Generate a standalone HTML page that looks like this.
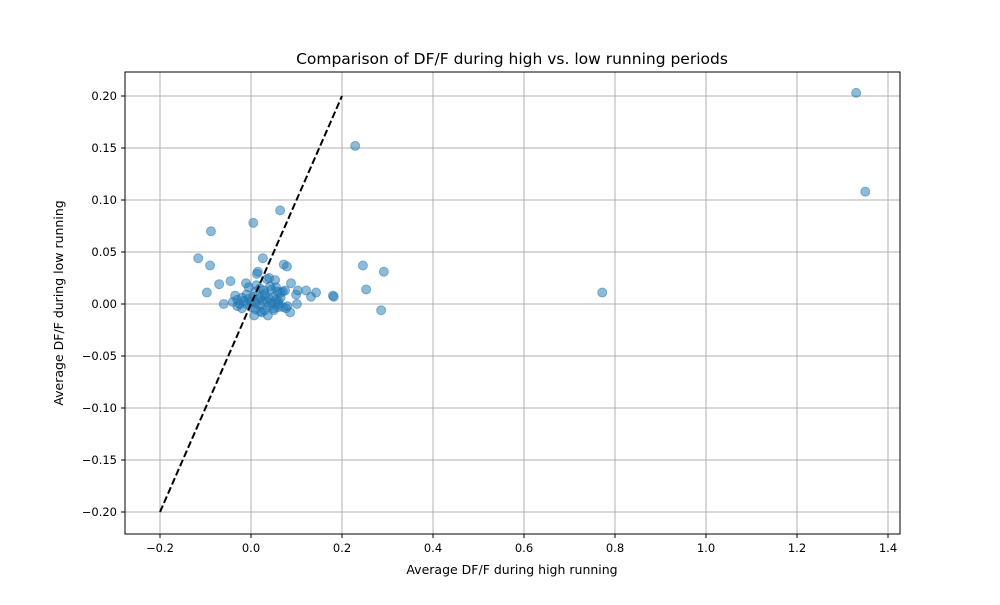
<!DOCTYPE html>
<html><head><meta charset="utf-8"><style>
body{margin:0;background:#fff;font-family:"Liberation Sans","DejaVu Sans",sans-serif}
text{font-family:"DejaVu Sans","Liberation Sans",sans-serif}
</style></head><body>
<svg id="chart" width="1000" height="600" xmlns="http://www.w3.org/2000/svg">
<rect width="1000" height="600" fill="#fff"/>
<g id="grid"></g>
<g id="pts"></g>
<g id="diag"></g>
<rect x="125" y="72" width="775" height="462" fill="none" stroke="#000" stroke-width="1"/>
<g id="ticks"></g>
<text x="512" y="64" text-anchor="middle" font-size="15.5">Comparison of DF/F during high vs. low running periods</text>
<text x="512" y="574" text-anchor="middle" font-size="12.5">Average DF/F during high running</text>
<text transform="translate(63,303) rotate(-90)" text-anchor="middle" font-size="12.5">Average DF/F during low running</text>
</svg>
<script>
const xTicks=[-0.2,0,0.2,0.4,0.6,0.8,1.0,1.2,1.4];
const xTickLabels=["−0.2","0.0","0.2","0.4","0.6","0.8","1.0","1.2","1.4"];
const yTicks=[-0.2,-0.15,-0.1,-0.05,0,0.05,0.1,0.15,0.2];
const yTickLabels=["−0.20","−0.15","−0.10","−0.05","0.00","0.05","0.10","0.15","0.20"];
const xVals=[1.33,1.35,0.229,0.772,0.246,0.292,0.253,0.286,0.064,0.005,-0.088,-0.116,-0.09,-0.097,-0.07,-0.06,-0.045,-0.011,0.015,0.013,0.026,0.072,0.079,0.088,0.053,0.035,0.103,0.121,0.143,0.132,0.18,0.182,0.099,0.101,0.086,0.077,0.037,0.007,0.024,
-0.04,-0.035,-0.03,-0.025,-0.02,-0.015,-0.01,-0.005,0.0,0.005,0.01,0.015,0.02,0.025,0.03,0.035,0.04,0.045,0.05,0.055,0.06,0.065,0.07,-0.03,-0.02,-0.01,0.0,0.01,0.02,0.03,0.04,0.05,0.06,0.07,0.08,0.01,0.02,0.03,0.045,0.055,0.065,-0.005,0.012,0.028,0.042,0.058,0.075,0.05,0.06,0.04,0.02];
const yVals=[0.203,0.108,0.152,0.011,0.037,0.031,0.014,-0.006,0.09,0.078,0.07,0.044,0.037,0.011,0.019,0,0.022,0.02,0.031,0.029,0.044,0.038,0.036,0.02,0.023,0.024,0.013,0.013,0.011,0.007,0.008,0.007,0.009,0,-0.008,-0.004,-0.011,-0.011,-0.008,
0.002,0.008,0.004,0.0,0.006,0.003,0.009,0.005,0.002,0.007,0.001,0.004,0.006,0.003,0.008,0.002,0.005,0.001,0.007,0.004,0.003,0.006,0.012,-0.002,-0.004,0.0,-0.003,-0.005,-0.001,-0.006,-0.002,-0.004,0.0,-0.003,-0.002,0.012,0.015,0.01,0.014,0.016,0.011,0.016,0.018,0.013,0.017,0.012,0.013,-0.006,-0.003,0.025,-0.007];
const X=v=>251+v*455, Y=v=>304-v*1040;
const ns="http://www.w3.org/2000/svg";
function mk(t,a,p){const e=document.createElementNS(ns,t);for(const k in a)e.setAttribute(k,a[k]);p.appendChild(e);return e;}
const g=document.getElementById('grid'),tk=document.getElementById('ticks');
xTicks.forEach((v,i)=>{const x=X(v);
 const l=mk('line',{x1:x,x2:x,y1:72,y2:534,stroke:'#b0b0b0','stroke-width':1},g);
 mk('line',{x1:x,x2:x,y1:534,y2:538,stroke:'#000'},tk);
 const t=mk('text',{x:x,y:552,'text-anchor':'middle','font-size':11.5},tk);t.textContent=xTickLabels[i];});
yTicks.forEach((v,i)=>{const y=Y(v);
 const l=mk('line',{x1:125,x2:900,y1:y,y2:y,stroke:'#b0b0b0','stroke-width':1},g);
 mk('line',{x1:121,x2:125,y1:y,y2:y,stroke:'#000'},tk);
 const t=mk('text',{x:117,y:y+4,'text-anchor':'end','font-size':11.5},tk);t.textContent=yTickLabels[i];});
const pg=document.getElementById('pts');
xVals.forEach((v,i)=>{const c=mk('circle',{cx:X(v),cy:Y(yVals[i]),r:4.5,fill:'#1f77b4','fill-opacity':0.5,stroke:'#1f77b4','stroke-opacity':0.5},pg);
 });
const d=mk('line',{x1:X(-0.2),y1:Y(-0.2),x2:X(0.2),y2:Y(0.2),stroke:'#000','stroke-width':2,'stroke-dasharray':'7,3'},document.getElementById('diag'));

</script>
</body></html>
